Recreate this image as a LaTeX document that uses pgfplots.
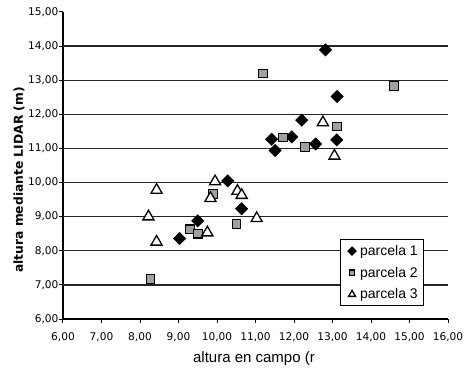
\documentclass[border=0pt]{standalone}
\usepackage{pgfplots}
\pgfplotsset{compat=1.18}
\usepackage{fontspec}
\setmainfont{Liberation Sans}
\newfontfamily\dv{DejaVu Sans}
\definecolor{sqgray}{RGB}{160,160,160}
\begin{document}
\begin{tikzpicture}
\useasboundingbox (-63pt,-50pt) rectangle (407pt,319pt);
\begin{axis}[
  at={(0pt,0pt)}, anchor=south west,
  scale only axis, width=385pt, height=307pt,
  xmin=6, xmax=16, ymin=6, ymax=15,
  xtick={6,...,16}, ytick={6,...,15},
  axis x line*=bottom, axis y line*=left,
  axis line style={-, line width=1.3pt, black},
  tick align=outside, major tick length=4pt,
  tick style={line width=1pt, black},
  extra y ticks={7,...,14}, extra y tick labels={},
  extra y tick style={grid=major, major tick length=0pt},
  grid style={line width=1.3pt, black!85},
  /pgf/number format/fixed, /pgf/number format/fixed zerofill,
  /pgf/number format/precision=2, /pgf/number format/use comma,
  /pgf/number format/assume math mode=true,
  tick label style={font=\dv\fontsize{10.6}{12}\selectfont},
  xticklabel style={yshift=-6.5pt},
  yticklabel style={xshift=3pt},
  xlabel={altura en campo (r},
  xlabel style={at={(axis description cs:0.496,-0.128)}, anchor=center, font=\fontsize{15}{18}\selectfont},
  ylabel={altura mediante LIDAR (m)},
  ylabel style={at={(axis description cs:-0.114,0.453)}, anchor=center, font=\dv\bfseries\fontsize{12.3}{14}\selectfont},
  legend style={at={(0.938,0.042)}, anchor=south east, draw=black, line width=0.8pt, fill=white,
    font=\fontsize{14}{16}\selectfont, row sep=0pt, inner xsep=4pt, inner ysep=0.5pt,
    nodes={inner xsep=2pt, inner ysep=5pt}},
  legend cell align=left,
  legend image code/.code={\path (0cm,0cm) (0.45cm,0cm); \draw[#1] plot coordinates {(0.25cm,0cm)};},
]
\addplot[only marks, mark=square*, mark size=4.4pt,
  mark options={rotate=45, fill=black, draw=black},
  legend image post style={mark size=3pt}]
coordinates {(12.82,13.89) (13.12,12.52) (12.2,11.83) (11.94,11.34) (11.42,11.27)
 (11.51,10.94) (12.56,11.13) (13.11,11.25) (10.28,10.05) (10.64,9.23) (9.5,8.88) (9.03,8.36)};
\addplot[only marks, mark=square*, mark size=4.3pt,
  mark options={fill=sqgray, draw=black, line width=1.1pt},
  legend image post style={mark size=2.7pt}]
coordinates {(11.2,13.2) (14.6,12.83) (13.12,11.64) (11.72,11.32) (12.29,11.04)
 (9.9,9.67) (10.51,8.78) (9.3,8.63) (9.5,8.5) (8.27,7.17)};
\addplot[only marks, mark=triangle*, mark size=6.4pt,
  mark options={fill=white, draw=black, line width=1.3pt},
  legend image post style={mark size=4pt}]
coordinates {(12.75,11.76) (13.05,10.78) (9.95,10.03) (10.53,9.75) (10.64,9.63)
 (9.83,9.54) (8.43,9.78) (8.22,9.0) (8.43,8.26) (9.75,8.53) (11.03,8.95)};
\legend{parcela 1, parcela 2, parcela 3}
\end{axis}
\end{tikzpicture}
\end{document}
